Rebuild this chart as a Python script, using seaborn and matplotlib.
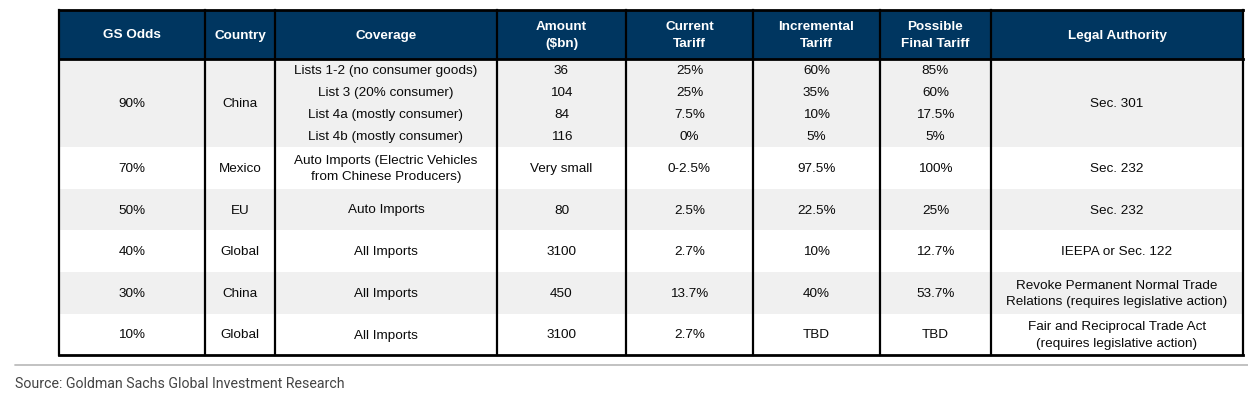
import matplotlib
matplotlib.use("Agg")
import matplotlib.pyplot as plt
import seaborn as sns
from matplotlib.patches import Rectangle

sns.set_theme(style="white")
plt.rcParams['font.family'] = ['Liberation Sans', 'DejaVu Sans']

# ---- data ----
headers = ["GS Odds", "Country", "Coverage", "Amount\n($bn)", "Current\nTariff",
           "Incremental\nTariff", "Possible\nFinal Tariff", "Legal Authority"]

odds = ["90%", "70%", "50%", "40%", "30%", "10%"]
countries = ["China", "Mexico", "EU", "Global", "China", "Global"]
coverage = [["Lists 1-2 (no consumer goods)", "List 3 (20% consumer)",
             "List 4a (mostly consumer)", "List 4b (mostly consumer)"],
            ["Auto Imports (Electric Vehicles\nfrom Chinese Producers)"],
            ["Auto Imports"], ["All Imports"], ["All Imports"], ["All Imports"]]
amount = [["36", "104", "84", "116"], ["Very small"], ["80"], ["3100"], ["450"], ["3100"]]
current_tariff = [["25%", "25%", "7.5%", "0%"], ["0-2.5%"], ["2.5%"], ["2.7%"], ["13.7%"], ["2.7%"]]
incremental_tariff = [["60%", "35%", "10%", "5%"], ["97.5%"], ["22.5%"], ["10%"], ["40%"], ["TBD"]]
final_tariff = [["85%", "60%", "17.5%", "5%"], ["100%"], ["25%"], ["12.7%"], ["53.7%"], ["TBD"]]
legal = ["Sec. 301", "Sec. 232", "Sec. 232", "IEEPA or Sec. 122",
         "Revoke Permanent Normal Trade\nRelations (requires legislative action)",
         "Fair and Reciprocal Trade Act\n(requires legislative action)"]
source = "Source: Goldman Sachs Global Investment Research"

# ---- layout ----
col_edges = [59, 205, 275, 497, 626, 753, 880, 991, 1243]
row_edges = [59, 147, 189, 230, 272, 314, 355]
top = 10
navy = "#003660"
grey = "#f0f0f0"
fs = 9.7

fig = plt.figure(figsize=(12.48, 4.0), dpi=100)
ax = fig.add_axes([0, 0, 1, 1])
ax.set_xlim(0, 1248)
ax.set_ylim(400, 0)
ax.axis("off")

# header
ax.add_patch(Rectangle((col_edges[0], top), col_edges[-1] - col_edges[0], row_edges[0] - top,
                       facecolor=navy, edgecolor="none", zorder=1))
centers = [(col_edges[i] + col_edges[i + 1]) / 2 for i in range(len(headers))]
for c, h in zip(centers, headers):
    ax.text(c, (top + row_edges[0]) / 2 + 1, h, ha="center", va="center", color="white",
            fontsize=fs, fontweight="bold", linespacing=1.55, zorder=3)

# body bands
for r in range(len(odds)):
    y0, y1 = row_edges[r], row_edges[r + 1]
    if r % 2 == 0:
        ax.add_patch(Rectangle((col_edges[0], y0), col_edges[-1] - col_edges[0], y1 - y0,
                               facecolor=grey, edgecolor="none", zorder=1))
    ym = (y0 + y1) / 2 + 1
    kw = dict(ha="center", va="center", color="#0a0a0a", fontsize=fs, linespacing=1.5, zorder=3)
    ax.text(centers[0], ym, odds[r], **kw)
    ax.text(centers[1], ym, countries[r], **kw)
    ax.text(centers[7], ym, legal[r], **kw)
    multi = [coverage[r], amount[r], current_tariff[r], incremental_tariff[r], final_tariff[r]]
    n = len(coverage[r])
    h = (y1 - y0) / n
    for k, col in enumerate(multi):
        for j, val in enumerate(col):
            ax.text(centers[2 + k], y0 + h * (j + 0.5) + 1, val, **kw)

# grid lines
lw = 1.6
for x in col_edges:
    ax.plot([x, x], [top, row_edges[-1]], color="black", lw=lw, zorder=4, solid_capstyle="projecting")
for y in [top, row_edges[0], row_edges[-1]]:
    ax.plot([col_edges[0], col_edges[-1]], [y, y], color="black", lw=lw + 0.4, zorder=4,
            solid_capstyle="projecting")

# separator and source
ax.plot([15, 1248], [365, 365], color="#bdbdbd", lw=1.3, zorder=2)
ax.text(15, 384, source, ha="left", va="center", color="#444444", fontsize=10.2,
        family=["Roboto", "DejaVu Sans"], fontstretch="condensed")

fig.savefig("out.png", dpi=100)
